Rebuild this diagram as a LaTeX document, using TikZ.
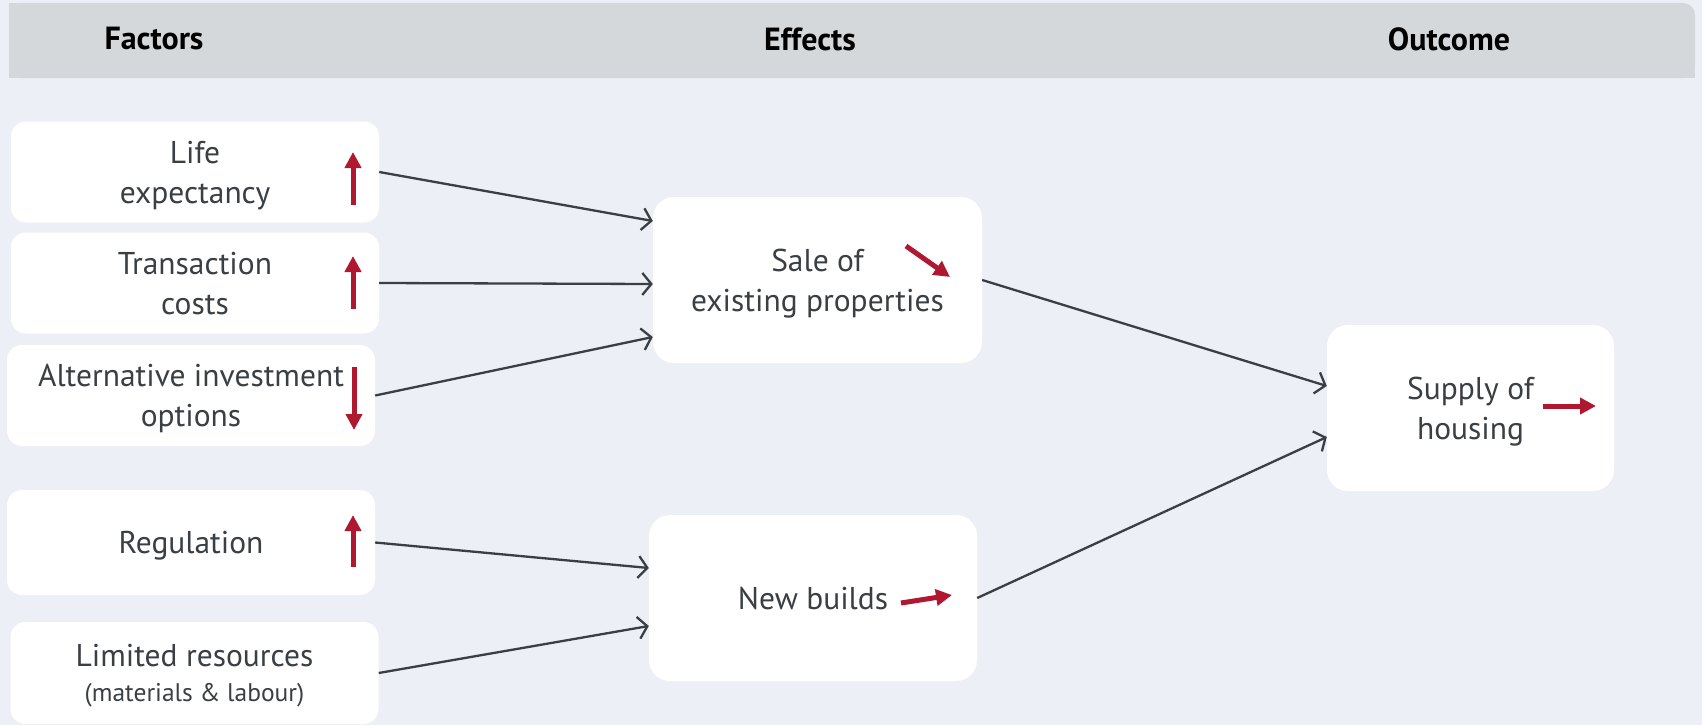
\documentclass[tikz,border=0pt]{standalone}
\usepackage{fontspec}
\setmainfont{PT Sans}
\usetikzlibrary{arrows.meta}

\definecolor{bgblue}{HTML}{ECEFF6}
\definecolor{bandgray}{HTML}{D4D8DB}
\definecolor{inkgray}{HTML}{3A3F44}
\definecolor{trendred}{HTML}{B01830}

\begin{document}
\begin{tikzpicture}[x=1pt, y=-1pt,
    box/.style={fill=white, rounded corners=15pt, align=center, inner sep=0pt,
                text depth=-2pt, text=inkgray, font=\fontsize{31.5}{40}\selectfont},
    factor/.style={box, minimum width=368pt, minimum height=101pt},
    effect/.style={box, rounded corners=21pt, minimum height=166pt},
    head/.style={font=\bfseries\fontsize{32}{38}\selectfont, text=black},
    link/.style={draw=inkgray, line width=2.3pt, -{Straight Barb[length=9pt,width=22pt]}},
    trend/.style={draw=trendred, line width=5pt, -{Triangle[length=16pt,width=16pt]}}]

    % background and header band
    \useasboundingbox (0,0) rectangle (1702,725);
    \fill[bgblue] (0,0) rectangle (1702,725);
    \fill[bandgray, rounded corners=12pt] (9,3) rectangle (1695,78);
    \fill[bandgray] (9,3) rectangle (60,78);
    \fill[bandgray] (60,40) rectangle (1695,78);

    \node[head] (factors) at (154,39) {Factors};
    \node[head] (effects) at (810,39) {Effects};
    \node[head] (outcome) at (1449,39) {Outcome};

    % factors
    \node[factor] (life) at (195,172) {Life\\expectancy};
    \node[factor] (trans) at (195,283) {Transaction\\costs};
    \node[factor] (alt) at (191,395.5) {Alternative investment\\options};
    \node[factor, minimum height=105pt] (reg) at (191,542.5) {Regulation};
    \node[factor, minimum height=102pt] (limited) at (194.5,673)
        {Limited resources\\[-5pt]{\fontsize{25.5}{30}\selectfont (materials \& labour)}};

    % effects
    \node[effect, minimum width=329pt] (sale) at (817.5,280) {Sale of\\existing properties};
    \node[effect, minimum width=328pt] (builds) at (813,598) {New builds};

    % outcome
    \node[effect, minimum width=287pt] (supply) at (1470.5,408) {Supply of\\housing};

    % trends
    \draw[trend] (353,205) -- (353,152);
    \draw[trend] (353,309) -- (353,256);
    \draw[trend] (354,367) -- (354,430);
    \draw[trend] (353,567) -- (353,515);
    \draw[trend] (906,246) -- (950,277);
    \draw[trend] (901,603) -- (952,595);
    \draw[trend] (1543,406) -- (1596,406);

    % connectors
    \draw[link] (life.east) -- ([yshift=59pt]sale.west);
    \draw[link] (trans.east) -- ([yshift=-4pt]sale.west);
    \draw[link] (alt.east) -- ([yshift=-57pt]sale.west);
    \draw[link] (reg.east) -- ([yshift=30pt]builds.west);
    \draw[link] (limited.east) -- ([yshift=-28pt]builds.west);
    \draw[link] (sale.east) -- ([yshift=22pt]supply.west);
    \draw[link] (builds.east) -- ([yshift=-29pt]supply.west);
\end{tikzpicture}
\end{document}
